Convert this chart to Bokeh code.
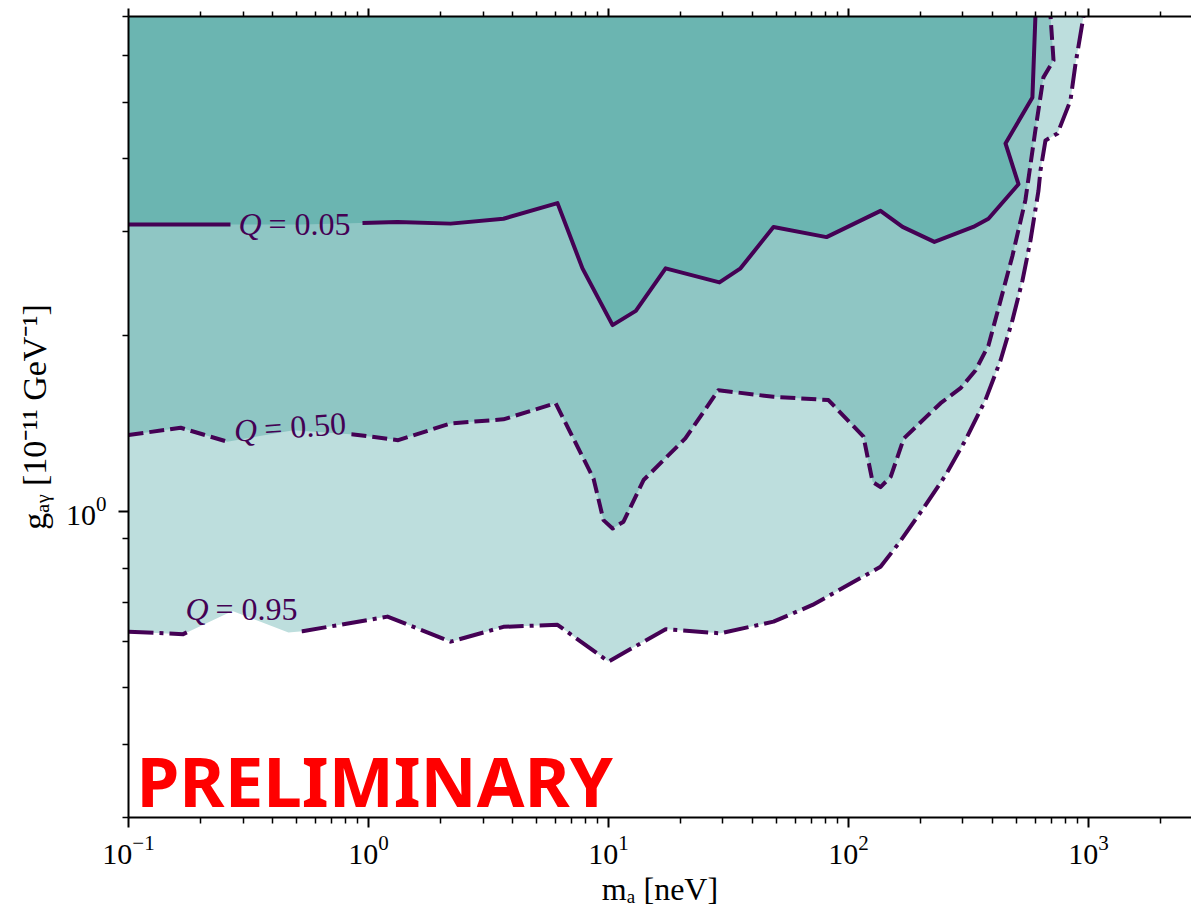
import numpy as np
from bokeh.plotting import figure
from bokeh.models import FixedTicker, LogAxis, Range1d
from bokeh.core.properties import value
from bokeh.embed import file_html
from bokeh.resources import INLINE

# ---- data: contour lines of Q (axion mass m_a [neV], coupling g [1e-11 GeV^-1]) ----
m_q05 = [0.1, 0.165, 0.307, 0.531, 1.32, 2.20, 3.65, 6.13, 7.79, 10.4, 13.0, 17.3, 29.0,
         35.5, 48.7, 81.0, 136, 168, 228, 331, 383, 511, 451, 584, 601]
g_q05 = [3.09, 3.09, 3.09, 3.09, 3.12, 3.10, 3.16, 3.36, 2.60, 2.08, 2.20, 2.60, 2.46,
         2.60, 3.06, 2.94, 3.26, 3.06, 2.885, 3.06, 3.16, 3.62, 4.25, 5.09, 7.0]

m_q50 = [0.1, 0.165, 0.258, 0.487, 0.866, 1.33, 2.20, 3.65, 6.02, 8.66, 9.53, 10.4, 11.55,
         14.0, 20.9, 28.7, 48.7, 82.5, 115.5, 126, 136, 150, 170, 242, 293, 338, 383, 430,
         482, 546, 601, 649, 715, 695]
g_q50 = [1.35, 1.389, 1.315, 1.376, 1.353, 1.323, 1.413, 1.436, 1.53, 1.138, 0.966, 0.935,
         0.960, 1.131, 1.332, 1.61, 1.569, 1.549, 1.341, 1.123, 1.10, 1.146, 1.332, 1.53,
         1.623, 1.74, 1.92, 2.29, 2.73, 3.40, 4.48, 5.51, 5.89, 7.0]

m_q95 = [0.1, 0.169, 0.271, 0.464, 0.531, 1.20, 2.20, 3.65, 6.13, 10.0, 17.3, 29.3, 48.7,
         70.8, 136, 162, 200, 254, 307, 372, 430, 482, 531, 573, 619, 631, 662, 743, 841,
         883, 953]
g_q95 = [0.623, 0.617, 0.676, 0.621, 0.624, 0.661, 0.599, 0.635, 0.64, 0.554, 0.629, 0.619,
         0.648, 0.692, 0.804, 0.882, 0.997, 1.153, 1.323, 1.549, 1.81, 2.12, 2.48, 2.90,
         3.53, 3.82, 4.30, 4.42, 5.03, 5.81, 7.0]

level_names = ["0.05", "0.50", "0.95"]

x_major = [0.1, 1, 10, 100, 1000]
x_major_labels = ["10\u207b\u00b9", "10\u2070", "10\u00b9", "10\u00b2", "10\u00b3"]
y_major = [1]
y_major_labels = ["10\u2070"]

X_MIN, X_MAX = 0.1, 2687.0
Y_MIN, Y_MAX = 0.3, 7.0

LINE_COLOR = "#440154"
FILL_DARK = "#6bb5b1"
FILL_MID = "#8fc6c4"
FILL_LIGHT = "#bddedd"
SERIF = "Liberation Serif"

x_minor = [k * 10.0 ** e for e in range(-1, 4) for k in range(2, 10) if k * 10.0 ** e <= X_MAX]
y_minor = [0.3, 0.4, 0.5, 0.6, 0.7, 0.8, 0.9, 2, 3, 4, 5, 6, 7]


def break_for_label(xs, ys, lo, hi):
    """Remove the part of a polyline lying under an inline label (lo < x < hi)."""
    lx, ly = np.log10(xs), np.log10(ys)
    a, b = np.log10(lo), np.log10(hi)
    ox, oy = [], []
    for i in range(len(lx)):
        if i > 0:
            x0, x1 = lx[i - 1], lx[i]
            for c in (a, b):
                if (x0 - c) * (x1 - c) < 0:
                    t = (c - x0) / (x1 - x0)
                    ox.append(c)
                    oy.append(ly[i - 1] + t * (ly[i] - ly[i - 1]))
                    if c == a:
                        ox.append(np.nan)
                        oy.append(np.nan)
        if not (a < lx[i] < b):
            ox.append(lx[i])
            oy.append(ly[i])
    return 10 ** np.array(ox), 10 ** np.array(oy)


p = figure(width=1191, height=910, x_axis_type="log", y_axis_type="log",
           x_range=Range1d(X_MIN, X_MAX), y_range=Range1d(Y_MIN, Y_MAX),
           output_backend="svg", toolbar_location=None,
           min_border_left=128, min_border_right=0, min_border_top=16, min_border_bottom=93)
p.outline_line_color = None
p.xgrid.visible = False
p.ygrid.visible = False
p.background_fill_color = "white"

# filled regions (each contour closed through the top-left corner)
for ms, gs, col in [(m_q95, g_q95, FILL_LIGHT), (m_q50, g_q50, FILL_MID), (m_q05, g_q05, FILL_DARK)]:
    p.patch(list(ms) + [X_MIN], list(gs) + [Y_MAX], fill_color=col, line_color=None)

# contour lines with gaps for the inline labels
gaps = [(0.266, 0.944), (0.263, 0.849), (0.175, 0.527)]
styles = ["solid", "15 6", "25 6 4 6"]
for (ms, gs), (lo, hi), dash in zip([(m_q05, g_q05), (m_q50, g_q50), (m_q95, g_q95)], gaps, styles):
    bx, by = break_for_label(ms, gs, lo, hi)
    p.line(bx, by, line_color=LINE_COLOR, line_width=4, line_dash=dash,
           line_join="round", line_cap="butt")

# inline labels
label_m = [0.487, 0.467, 0.293]
label_g = [3.10, 1.393, 0.681]
label_angle = [0.0, 0.07, 0.0]
p.text(x=label_m, y=label_g, text=["Q"] * 3, angle=label_angle,
       x_offset=-32, y_offset=[0, 2.2, 0], text_align="right", text_baseline="middle",
       text_font=value(SERIF), text_font_style="italic", text_font_size="32px",
       text_color=LINE_COLOR)
p.text(x=label_m, y=label_g, text=["= " + s for s in level_names], angle=label_angle,
       x_offset=-25, y_offset=[0, 1.7, 0], text_align="left", text_baseline="middle",
       text_font=value(SERIF), text_font_size="32px", text_color=LINE_COLOR)

# watermark
p.text(x=[0.108], y=[0.348], text=["PRELIMINARY"], text_align="left", text_baseline="middle",
       text_font=value("Noto Sans"), text_font_style="bold", text_font_size="69px",
       text_color="#ff0000")

# axes
def style_axis(ax):
    ax.axis_line_width = 2
    ax.axis_line_color = "black"
    ax.major_tick_line_width = 2
    ax.minor_tick_line_width = 1.5
    ax.major_tick_out = 10
    ax.major_tick_in = 0
    ax.minor_tick_out = 6
    ax.minor_tick_in = 0
    ax.major_label_text_font = SERIF
    ax.major_label_text_font_size = "30px"
    ax.major_label_text_color = "black"
    ax.axis_label_text_font = SERIF
    ax.axis_label_text_font_style = "normal"
    ax.axis_label_text_font_size = "32px"
    ax.axis_label_text_color = "black"

xa = p.xaxis[0]
xa.ticker = FixedTicker(ticks=x_major, minor_ticks=x_minor)
xa.major_label_overrides = {str(k): v for k, v in zip(x_major, x_major_labels)}
xa.axis_label = "m\u2090 [neV]"
style_axis(xa)
xa.major_label_standoff = 8
xa.axis_label_standoff = 4

ya = p.yaxis[0]
ya.ticker = FixedTicker(ticks=y_major, minor_ticks=y_minor)
ya.major_label_overrides = {str(k): v for k, v in zip(y_major, y_major_labels)}
ya.axis_label = "g\u2090\u1d67 [10\u207b\u00b9\u00b9 GeV\u207b\u00b9]"
style_axis(ya)
ya.axis_label_text_font_size = "34px"
ya.major_label_standoff = 12
ya.axis_label_standoff = 10

top = LogAxis(ticker=FixedTicker(ticks=x_major, minor_ticks=x_minor))
style_axis(top)
top.major_tick_out = 8
top.minor_tick_out = 5
top.major_label_text_font_size = "1px"
top.major_label_text_alpha = 0.0
top.major_label_standoff = 0
p.add_layout(top, "above")

open("out.html", "w").write(file_html(p, INLINE))
